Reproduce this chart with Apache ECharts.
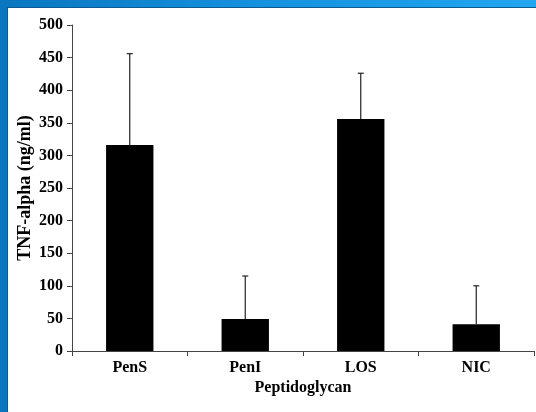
<!DOCTYPE html>
<html>
<head>
<meta charset="utf-8">
<script src="https://cdn.jsdelivr.net/npm/echarts@6/dist/echarts.min.js"></script>
<style>
  html, body { margin: 0; padding: 0; }
  body { width: 536px; height: 412px; overflow: hidden; position: relative;
         background: linear-gradient(to right, #0a76c0 0%, #1590dc 45%, #22a6ef 100%); }
  #frame { position: absolute; left: 7px; top: 7px; width: 529px; height: 405px;
           background: #ffffff; border-top: 1px solid #0b5a92; border-left: 1px solid #0b5a92; }
  #left { position: absolute; left: 0; top: 0; width: 7px; height: 412px; background: #0a76c0; }
  #chart { position: absolute; left: 0; top: 0; width: 536px; height: 412px; }
</style>
</head>
<body>
<div id="left"></div>
<div id="frame"></div>
<div id="chart"></div>
<script>
const categories = ['PenS', 'PenI', 'LOS', 'NIC'];
const means = [316, 49, 356, 41];
const errorsUp = [140, 66, 70, 59];
const yTicks = [0, 50, 100, 150, 200, 250, 300, 350, 400, 450, 500];
const xTitle = 'Peptidoglycan';
const yTitle = 'TNF-alpha (ng/ml)';

const font = '"Liberation Serif", "Times New Roman", serif';
const chart = echarts.init(document.getElementById('chart'), null, { renderer: 'canvas' });

const errData = categories.map((c, i) => [i, means[i], means[i] + errorsUp[i]]);

chart.setOption({
  backgroundColor: 'transparent',
  animation: false,
  grid: { left: 72, top: 25, width: 462, height: 326, containLabel: false },
  xAxis: {
    type: 'category',
    data: categories,
    boundaryGap: true,
    name: xTitle,
    nameLocation: 'middle',
    nameGap: 29,
    nameMoveOverlap: false,
    nameTextStyle: { fontFamily: font, fontWeight: 'bold', fontSize: 16, color: '#000', verticalAlign: 'top' },
    axisLine: { show: true, lineStyle: { color: '#444', width: 1 } },
    axisTick: { show: true, alignWithLabel: false, length: 5, lineStyle: { color: '#444' } },
    axisLabel: { fontFamily: font, fontWeight: 'bold', fontSize: 16, color: '#000', margin: 9 },
    splitLine: { show: false }
  },
  yAxis: {
    type: 'value',
    min: yTicks[0],
    max: yTicks[yTicks.length - 1],
    interval: yTicks[1] - yTicks[0],
    name: yTitle,
    nameLocation: 'middle',
    nameGap: 38,
    nameMoveOverlap: false,
    nameRotate: 90,
    nameTextStyle: { fontFamily: font, fontWeight: 'bold', fontSize: 18, color: '#000' },
    axisLine: { show: true, lineStyle: { color: '#444', width: 1 } },
    axisTick: { show: true, length: 5, lineStyle: { color: '#444' } },
    axisLabel: { fontFamily: font, fontWeight: 'bold', fontSize: 16, color: '#000', margin: 9 },
    splitLine: { show: false }
  },
  series: [
    {
      type: 'bar',
      data: means,
      barWidth: '41%',
      itemStyle: { color: '#000' },
      z: 2
    },
    {
      type: 'custom',
      data: errData,
      z: 3,
      renderItem: function (params, api) {
        const x = api.value(0);
        const p1 = api.coord([x, api.value(1)]);
        const p2 = api.coord([x, api.value(2)]);
        const hw = 3;
        const style = { stroke: '#222', lineWidth: 1.2 };
        return {
          type: 'group',
          children: [
            { type: 'line', shape: { x1: p1[0], y1: p1[1], x2: p2[0], y2: p2[1] }, style: style },
            { type: 'line', shape: { x1: p2[0] - hw, y1: p2[1], x2: p2[0] + hw, y2: p2[1] }, style: style }
          ]
        };
      }
    }
  ]
});
</script>
</body>
</html>
